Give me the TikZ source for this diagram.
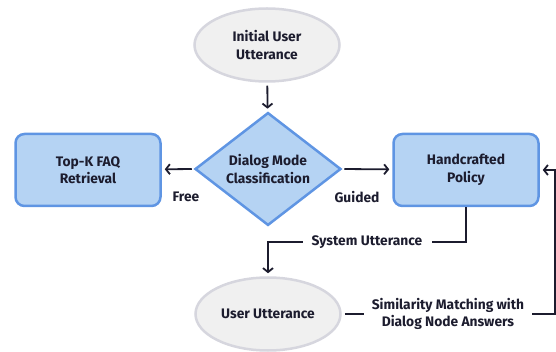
\documentclass[tikz,border=0pt]{standalone}
\usepackage{fontspec}
\setmainfont{Fira Sans}
\usetikzlibrary{positioning,shapes.geometric,arrows.meta}
\definecolor{boxblue}{HTML}{B5D3F3}
\definecolor{edgeblue}{HTML}{5F95E3}
\definecolor{ovalgrey}{HTML}{F0F0F0}
\definecolor{ovaledge}{HTML}{D6D6DE}
\definecolor{ink}{HTML}{1C1C2E}
\tikzset{
    write/.style = { text=ink,font=\fontsize{13.8}{17.5}\selectfont\bfseries,align=center, },
    oval/.style = { write,ellipse,fill=ovalgrey,draw=ovaledge,line width=2.5pt,minimum width=145pt,minimum height=73pt, },
    block/.style = { write,rectangle,rounded corners=9pt,fill=boxblue,draw=edgeblue,line width=2.5pt,minimum width=145pt,minimum height=72pt, },
    choice/.style = { write,diamond,fill=boxblue,draw=edgeblue,line width=2.5pt,inner sep=0,minimum width=146pt,minimum height=112pt, },
    line/.style = { draw=ink,line width=1.8pt, },
    arrow/.style = { line,-{Straight Barb[length=4pt,width=10pt]},shorten >=3pt, },
    tag/.style = { write,inner sep=9pt, },
}
\begin{document}
\begin{tikzpicture}[x=1pt,y=-1pt]

    \useasboundingbox (0,0) rectangle (556,352);

    \node [oval] (init) at (267,45) {Initial User\\Utterance};
    \node [choice] (mode) at (268,169) {Dialog Mode\\Classification};
    \node [block] (faq) at (88,170) {Top-K FAQ\\Retrieval};
    \node [block] (policy) at (466,170) {Handcrafted\\Policy};
    \node [oval] (user) at (268,314) {User Utterance};

    \node [write] (free) at (186,197) {Free};
    \node [write] (guided) at (357,197) {Guided};
    \node [tag] (sys) at (367,242) {System Utterance};
    \node [tag,inner sep=8pt] (sim) at (448,314) {Similarity Matching with\\Dialog Node Answers};
    \coordinate (rt) at (555,170);

    \draw [arrow,shorten <=3pt] (init) -- (mode);
    \draw [arrow,shorten <=2pt] (mode.west) -- (faq);
    \draw [arrow,shorten <=2pt] (mode.east) -- (policy);

    \draw [line] (policy.south) |- (sys.east);
    \draw [arrow] (sys.west) -| (user.north);

    \draw [line,shorten <=3pt] (user.east) -- (sim.west);
    \draw [arrow] (sim.east) -| (rt) -- (policy.east);

\end{tikzpicture}
\end{document}
